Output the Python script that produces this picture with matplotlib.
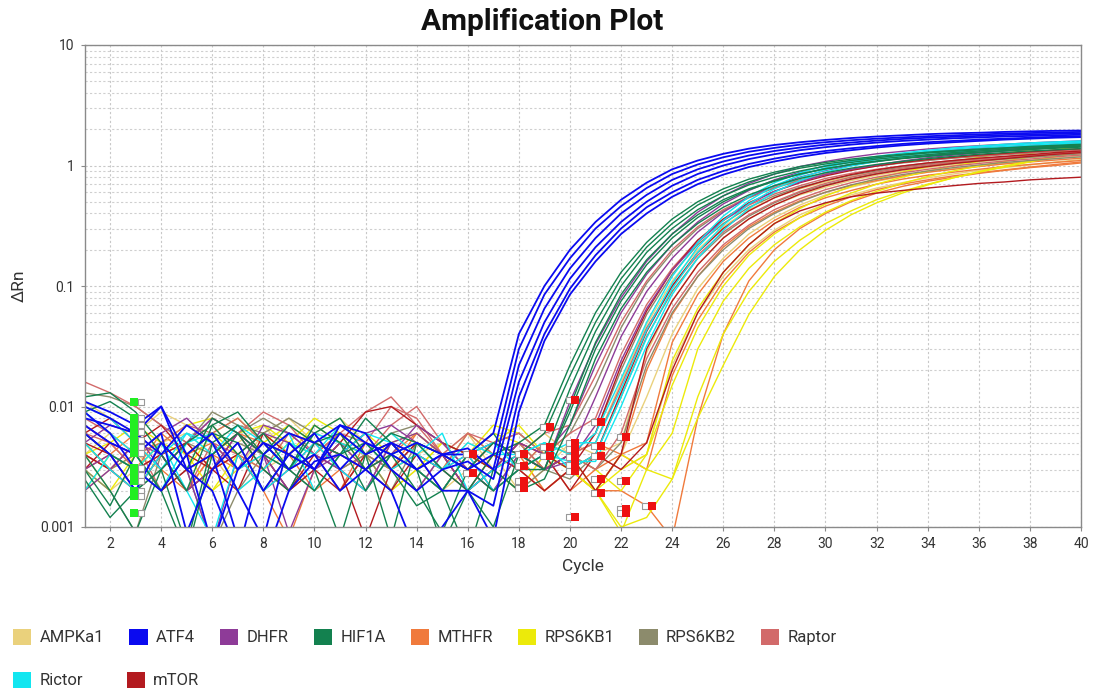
import numpy as np
import matplotlib
matplotlib.use("Agg")
import matplotlib.pyplot as plt
from matplotlib.patches import Patch
from matplotlib.ticker import FixedLocator, FuncFormatter, LogLocator, NullFormatter

plt.rcParams["font.family"] = ["Roboto", "DejaVu Sans"]

CYCLES = np.arange(1, 41)

GENES = ["AMPKa1", "ATF4", "DHFR", "HIF1A", "MTHFR",
         "RPS6KB1", "RPS6KB2", "Raptor", "Rictor", "mTOR"]
GENE_COLORS = ["#ead17c", "#0a0af0", "#8e3b98", "#13814f", "#f07a3c",
               "#ecea0a", "#8c8b6c", "#d26a6a", "#12e6f0", "#b31a1f"]

# delta Rn per cycle (1..40), one row per well
AMPKA1_RUNS = [
    [.011, .008, .006, .009, .007, .005, .003, .006, .008, .005, .004, .006, .003, .004, .005, .003, .005, .004, .006, .004,
     .005, .016, .048, .110, .200, .310, .430, .540, .640, .730, .810, .880, .950, 1.01, 1.06, 1.11, 1.16, 1.20, 1.25, 1.30],
    [.004, .006, .004, .003, .005, .007, .004, .003, .005, .004, .002, .004, .006, .004, .003, .005, .004, .002, .003, .005,
     .004, .005, .028, .075, .150, .250, .360, .470, .570, .660, .750, .830, .900, .960, 1.02, 1.07, 1.12, 1.16, 1.21, 1.25],
    [.002, .003, .005, .004, .002, .003, .005, .007, .004, .003, .005, .004, .002, .003, .004, .006, .003, .002, .004, .003,
     .002, .004, .012, .040, .095, .170, .270, .370, .470, .570, .660, .740, .810, .880, .940, .990, 1.04, 1.09, 1.15, 1.20],
    [.004, .002, .003, .005, .006, .004, .002, .003, .004, .006, .008, .005, .003, .004, .002, .003, .005, .004, .002, .003,
     .004, .003, .004, .022, .060, .120, .200, .290, .390, .480, .570, .650, .720, .790, .850, .910, .960, 1.01, 1.07, 1.12],
]

ATF4_RUNS = [
    [.011, .009, .007, .010, .004, .006, .003, .005, .004, .006, .003, .005, .004, .003, .004, .004, .006, .040, .100, .200,
     .340, .520, .720, .930, 1.10, 1.25, 1.38, 1.48, 1.56, 1.63, 1.69, 1.74, 1.78, 1.82, 1.85, 1.87, 1.90, 1.92, 1.94, 1.95],
    [.010, .008, .006, .004, .007, .005, .002, .0008, .005, .003, .006, .004, .005, .003, .004, .003, .004, .030, .085, .170,
     .300, .460, .650, .850, 1.02, 1.17, 1.30, 1.40, 1.49, 1.56, 1.62, 1.67, 1.71, 1.75, 1.78, 1.81, 1.84, 1.86, 1.88, 1.90],
    [.008, .007, .006, .010, .003, .002, .0006, .004, .006, .005, .007, .005, .004, .005, .004, .0045, .003, .022, .065, .140,
     .250, .400, .570, .760, .930, 1.08, 1.21, 1.32, 1.41, 1.49, 1.55, 1.61, 1.66, 1.70, 1.73, 1.76, 1.79, 1.81, 1.83, 1.85],
    [.007, .005, .004, .006, .0009, .003, .005, .002, .004, .003, .007, .006, .003, .002, .003, .0035, .0025, .016, .050, .115,
     .210, .340, .500, .680, .850, 1.00, 1.13, 1.24, 1.34, 1.42, 1.49, 1.55, 1.60, 1.64, 1.68, 1.71, 1.74, 1.76, 1.78, 1.80],
    [.009, .006, .003, .002, .004, .0007, .003, .005, .003, .004, .002, .003, .005, .004, .002, .002, .0015, .012, .040, .095,
     .180, .300, .450, .600, .760, .900, 1.03, 1.14, 1.24, 1.32, 1.39, 1.45, 1.51, 1.56, 1.60, 1.64, 1.67, 1.70, 1.73, 1.75],
    [.006, .004, .002, .005, .003, .004, .0008, .0005, .002, .0035, .004, .003, .002, .0006, .001, .002, .0008, .009, .035, .085,
     .160, .270, .400, .550, .700, .840, .970, 1.08, 1.18, 1.27, 1.34, 1.41, 1.47, 1.52, 1.56, 1.60, 1.64, 1.67, 1.70, 1.72],
]

DHFR_RUNS = [
    [.005, .007, .006, .003, .005, .008, .006, .004, .002, .005, .004, .006, .007, .005, .003, .004, .005, .004, .003, .011,
     .033, .080, .160, .270, .410, .560, .710, .850, .980, 1.08, 1.17, 1.25, 1.31, 1.37, 1.42, 1.46, 1.50, 1.54, 1.57, 1.60],
    [.007, .005, .004, .006, .008, .005, .003, .007, .006, .004, .003, .002, .005, .006, .004, .002, .003, .005, .004, .007,
     .022, .060, .125, .220, .340, .480, .620, .760, .880, .990, 1.08, 1.16, 1.23, 1.29, 1.34, 1.39, 1.43, 1.47, 1.51, 1.55],
    [.003, .004, .002, .005, .003, .0007, .004, .006, .005, .003, .004, .006, .003, .002, .004, .003, .005, .004, .003, .004,
     .012, .038, .090, .170, .280, .410, .550, .680, .800, .910, 1.00, 1.08, 1.15, 1.21, 1.27, 1.32, 1.36, 1.40, 1.45, 1.50],
    [.002, .003, .005, .004, .002, .003, .006, .004, .0009, .003, .005, .003, .004, .007, .005, .003, .002, .004, .003, .0035,
     .007, .024, .065, .135, .230, .350, .480, .610, .730, .840, .930, 1.01, 1.09, 1.16, 1.22, 1.27, 1.32, 1.36, 1.41, 1.45],
]

HIF1A_RUNS = [
    [.012, .013, .009, .005, .003, .008, .006, .004, .007, .005, .004, .008, .005, .003, .0007, .002, .004, .005, .007, .022,
     .060, .130, .230, .360, .500, .640, .770, .880, .980, 1.06, 1.13, 1.19, 1.24, 1.29, 1.33, 1.37, 1.40, 1.44, 1.47, 1.50],
    [.009, .011, .008, .004, .002, .007, .009, .005, .003, .006, .008, .004, .0008, .005, .004, .003, .005, .004, .006, .018,
     .050, .115, .210, .330, .470, .600, .730, .850, .950, 1.03, 1.10, 1.16, 1.22, 1.27, 1.31, 1.35, 1.39, 1.42, 1.45, 1.48],
    [.004, .002, .0009, .003, .005, .007, .004, .006, .003, .007, .005, .002, .004, .003, .002, .004, .006, .003, .004, .014,
     .042, .100, .190, .300, .430, .560, .690, .800, .900, .990, 1.06, 1.13, 1.18, 1.23, 1.28, 1.32, 1.36, 1.39, 1.42, 1.45],
    [.003, .0015, .004, .002, .0006, .004, .006, .003, .002, .005, .006, .003, .004, .002, .0009, .003, .002, .003, .003, .010,
     .034, .085, .165, .270, .390, .520, .640, .750, .850, .940, 1.02, 1.08, 1.14, 1.19, 1.24, 1.28, 1.32, 1.36, 1.39, 1.42],
    [.006, .004, .003, .002, .004, .006, .005, .002, .004, .003, .0008, .004, .006, .005, .003, .002, .001, .004, .003, .009,
     .030, .075, .150, .250, .370, .500, .630, .740, .850, .940, 1.02, 1.09, 1.15, 1.20, 1.25, 1.29, 1.33, 1.37, 1.41, 1.45],
    [.0025, .0012, .002, .003, .0007, .005, .007, .004, .003, .002, .004, .005, .003, .0015, .002, .0006, .003, .002, .0025, .007,
     .025, .065, .130, .220, .330, .450, .570, .680, .780, .870, .950, 1.02, 1.08, 1.14, 1.19, 1.24, 1.28, 1.32, 1.35, 1.38],
]

MTHFR_RUNS = [
    [.007, .005, .003, .006, .004, .005, .003, .004, .006, .005, .003, .002, .004, .006, .004, .003, .005, .004, .003, .004,
     .005, .004, .020, .058, .120, .210, .310, .410, .510, .600, .680, .750, .820, .880, .930, .980, 1.03, 1.07, 1.11, 1.15],
    [.003, .004, .006, .004, .002, .004, .006, .005, .003, .004, .002, .005, .003, .004, .002, .004, .003, .005, .004, .002,
     .003, .004, .005, .034, .085, .160, .250, .350, .450, .540, .620, .700, .770, .830, .880, .930, .980, 1.02, 1.06, 1.10],
    [.005, .003, .002, .004, .005, .003, .004, .002, .0008, .003, .005, .004, .003, .006, .004, .002, .003, .004, .002, .003,
     .002, .004, .003, .018, .052, .110, .190, .280, .370, .460, .550, .630, .700, .760, .820, .870, .920, .970, 1.02, 1.07],
    [.004, .003, .005, .003, .002, .004, .003, .005, .004, .002, .003, .004, .003, .002, .004, .003, .002, .003, .002, .003,
     .002, .002, .0015, .0008, .008, .040, .110, .200, .300, .400, .500, .590, .670, .740, .800, .860, .910, .960, 1.00, 1.05],
]

RPS6KB1_RUNS = [
    [.006, .004, .003, .005, .007, .008, .006, .007, .005, .004, .006, .003, .004, .005, .003, .006, .004, .003, .005, .004,
     .003, .002, .004, .024, .065, .130, .220, .330, .440, .560, .670, .780, .880, .980, 1.08, 1.17, 1.26, 1.35, 1.45, 1.55],
    [.004, .005, .007, .005, .003, .006, .008, .005, .004, .007, .005, .003, .005, .006, .004, .003, .005, .007, .004, .003,
     .002, .003, .004, .015, .045, .100, .180, .270, .370, .480, .590, .700, .800, .900, .990, 1.08, 1.17, 1.26, 1.35, 1.45],
    [.005, .003, .004, .002, .004, .006, .004, .003, .005, .008, .006, .004, .005, .003, .002, .004, .006, .005, .003, .004,
     .002, .0009, .003, .006, .030, .075, .140, .220, .310, .410, .510, .610, .710, .810, .900, .990, 1.08, 1.18, 1.28, 1.38],
    [.003, .002, .004, .005, .003, .002, .004, .006, .004, .003, .005, .004, .002, .003, .005, .004, .007, .006, .004, .003,
     .002, .001, .0012, .0025, .008, .022, .058, .120, .200, .290, .390, .490, .590, .690, .790, .890, .990, 1.09, 1.19, 1.30],
    [.002, .004, .003, .005, .004, .002, .003, .005, .007, .005, .004, .006, .004, .003, .005, .004, .003, .002, .004, .003,
     .002, .004, .003, .0025, .012, .040, .090, .160, .240, .330, .420, .520, .610, .700, .790, .880, .970, 1.07, 1.18, 1.30],
]

RPS6KB2_RUNS = [
    [.013, .012, .010, .007, .005, .009, .007, .006, .008, .006, .005, .004, .006, .007, .005, .004, .005, .006, .004, .006,
     .015, .045, .105, .190, .300, .420, .540, .650, .750, .840, .920, .990, 1.05, 1.10, 1.15, 1.19, 1.23, 1.27, 1.31, 1.35],
    [.006, .004, .002, .003, .005, .004, .006, .008, .006, .005, .003, .004, .002, .005, .004, .002, .003, .005, .003, .004,
     .006, .020, .058, .125, .220, .330, .450, .560, .660, .750, .830, .900, .970, 1.03, 1.08, 1.13, 1.17, 1.21, 1.26, 1.30],
    [.003, .002, .0009, .004, .002, .003, .005, .004, .002, .003, .006, .004, .003, .005, .004, .003, .002, .004, .003, .0025,
     .004, .012, .038, .090, .170, .270, .380, .490, .600, .690, .780, .860, .930, .990, 1.04, 1.09, 1.13, 1.17, 1.21, 1.25],
    [.005, .003, .004, .002, .003, .0007, .002, .004, .003, .002, .004, .003, .005, .003, .002, .004, .003, .002, .003, .004,
     .003, .005, .022, .060, .120, .200, .300, .400, .500, .600, .690, .770, .840, .900, .960, 1.01, 1.06, 1.10, 1.14, 1.18],
]

RAPTOR_RUNS = [
    [.016, .013, .010, .007, .005, .008, .006, .009, .007, .004, .006, .005, .010, .008, .004, .006, .005, .004, .006, .007,
     .018, .050, .110, .200, .310, .430, .550, .660, .760, .850, .930, 1.00, 1.06, 1.11, 1.16, 1.20, 1.24, 1.28, 1.32, 1.35],
    [.008, .006, .004, .005, .007, .006, .008, .005, .003, .004, .006, .009, .012, .007, .004, .003, .005, .006, .004, .006,
     .008, .027, .070, .140, .240, .350, .470, .580, .680, .780, .860, .930, .990, 1.05, 1.10, 1.14, 1.18, 1.22, 1.26, 1.30],
    [.004, .003, .005, .002, .004, .006, .003, .005, .004, .006, .003, .002, .005, .004, .003, .006, .004, .003, .005, .004,
     .005, .015, .045, .100, .180, .280, .390, .500, .610, .710, .800, .880, .950, 1.01, 1.06, 1.11, 1.16, 1.20, 1.24, 1.28],
    [.006, .005, .003, .004, .002, .005, .004, .003, .006, .004, .002, .004, .007, .010, .005, .003, .004, .005, .003, .004,
     .003, .006, .025, .065, .130, .220, .320, .430, .530, .630, .720, .800, .870, .930, .990, 1.04, 1.09, 1.13, 1.18, 1.22],
]

RICTOR_RUNS = [
    [.010, .008, .005, .003, .006, .004, .007, .005, .003, .006, .005, .004, .006, .004, .003, .005, .004, .004, .005, .004,
     .006, .017, .050, .120, .230, .380, .550, .720, .870, 1.00, 1.10, 1.19, 1.27, 1.34, 1.40, 1.45, 1.50, 1.54, 1.57, 1.60],
    [.009, .006, .004, .002, .005, .006, .003, .004, .006, .002, .004, .006, .005, .003, .002, .004, .005, .003, .004, .005,
     .005, .014, .043, .105, .210, .350, .510, .680, .830, .960, 1.07, 1.16, 1.24, 1.31, 1.37, 1.42, 1.47, 1.51, 1.55, 1.58],
    [.005, .003, .002, .004, .006, .005, .002, .003, .005, .004, .007, .005, .003, .004, .006, .002, .003, .004, .005, .003,
     .004, .012, .037, .095, .190, .320, .480, .640, .790, .920, 1.03, 1.12, 1.20, 1.27, 1.33, 1.38, 1.43, 1.47, 1.51, 1.55],
    [.002, .004, .003, .005, .002, .0008, .004, .002, .003, .005, .003, .002, .004, .005, .003, .004, .002, .003, .004, .0035,
     .0035, .010, .032, .085, .170, .290, .440, .600, .750, .880, .990, 1.08, 1.16, 1.23, 1.29, 1.35, 1.40, 1.44, 1.48, 1.52],
]

MTOR_RUNS = [
    [.006, .008, .005, .007, .004, .003, .006, .004, .002, .003, .005, .009, .010, .007, .005, .004, .003, .005, .004, .003,
     .006, .022, .062, .135, .240, .360, .490, .610, .720, .820, .910, .990, 1.06, 1.12, 1.17, 1.22, 1.26, 1.30, 1.34, 1.38],
    [.004, .003, .002, .004, .005, .003, .002, .006, .004, .003, .002, .004, .005, .003, .002, .004, .002, .003, .004, .002,
     .004, .013, .042, .100, .190, .300, .420, .540, .650, .750, .840, .920, .990, 1.05, 1.10, 1.15, 1.19, 1.23, 1.28, 1.32],
    [.003, .005, .004, .002, .003, .004, .006, .003, .002, .004, .003, .0008, .003, .005, .004, .002, .003, .004, .003, .004,
     .002, .004, .030, .075, .150, .250, .360, .470, .580, .680, .770, .850, .920, .980, 1.04, 1.09, 1.14, 1.19, 1.24, 1.28],
    [.005, .004, .003, .004, .002, .003, .004, .002, .003, .005, .004, .003, .002, .004, .003, .002, .004, .003, .002, .003,
     .004, .003, .005, .020, .060, .130, .220, .330, .420, .490, .550, .590, .620, .650, .680, .710, .730, .760, .780, .800],
]

# baseline start / end flags per well
START_FLAG_CYCLE = 3
START_FLAG_VALUES = [.0109, .0080, .0070, .0061, .0053, .0046, .0041,
                     .0031, .0027, .0024, .0020, .0018, .0013]
END_FLAG_CYCLES = [16, 16, 18, 18, 18, 18, 19, 19, 19,
                   20, 20, 20, 20, 20, 20, 20,
                   21, 21, 21, 21, 21, 22, 22, 22, 22, 23]
END_FLAG_VALUES = [.0040, .0028, .0040, .0032, .0024, .0021, .0068, .0046, .0039,
                   .0113, .0050, .0044, .0038, .0033, .0029, .0012,
                   .0074, .0047, .0039, .0025, .0019, .0056, .0024, .0014, .0013, .0015]

RUNS_BY_GENE = {
    "AMPKa1": AMPKA1_RUNS, "ATF4": ATF4_RUNS, "DHFR": DHFR_RUNS,
    "HIF1A": HIF1A_RUNS, "MTHFR": MTHFR_RUNS, "RPS6KB1": RPS6KB1_RUNS,
    "RPS6KB2": RPS6KB2_RUNS, "Raptor": RAPTOR_RUNS, "Rictor": RICTOR_RUNS,
    "mTOR": MTOR_RUNS,
}
DRAW_ORDER = ["AMPKa1", "MTHFR", "RPS6KB1", "RPS6KB2", "Raptor",
              "mTOR", "DHFR", "Rictor", "HIF1A", "ATF4"]

TEXT = "#333333"
W, H = 1094, 693


def main():
    fig = plt.figure(figsize=(W / 100, H / 100), dpi=100)
    ax = fig.add_axes([84.5 / W, 1 - 527 / H, 996.5 / W, 482 / H])

    color_of = dict(zip(GENES, GENE_COLORS))
    for gene in DRAW_ORDER:
        lw = 1.3 if gene == "ATF4" else 1.0
        for run in RUNS_BY_GENE[gene]:
            ax.plot(CYCLES, run, color=color_of[gene], lw=lw, zorder=2)

    # baseline flags: hollow box beside a filled box
    sx = np.full(len(START_FLAG_VALUES), START_FLAG_CYCLE, dtype=float)
    ax.scatter(sx + 0.22, START_FLAG_VALUES, marker="s", s=22, facecolor="white",
               edgecolor="#999999", linewidths=0.8, zorder=4, clip_on=False)
    ax.scatter(sx - 0.08, START_FLAG_VALUES, marker="s", s=26, color="#22ee22",
               linewidths=0, zorder=5, clip_on=False)
    ex = np.array(END_FLAG_CYCLES, dtype=float)
    ax.scatter(ex - 0.05, END_FLAG_VALUES, marker="s", s=22, facecolor="white",
               edgecolor="#999999", linewidths=0.8, zorder=4)
    ax.scatter(ex + 0.2, END_FLAG_VALUES, marker="s", s=30, color="#ee1111",
               linewidths=0, zorder=5)

    ax.set_yscale("log")
    ax.set_xlim(1, 40)
    ax.set_ylim(0.001, 10)

    ax.xaxis.set_major_locator(FixedLocator(np.arange(2, 41, 2)))
    ax.yaxis.set_major_locator(FixedLocator([0.001, 0.01, 0.1, 1, 10]))
    ax.yaxis.set_major_formatter(FuncFormatter(lambda v, _: f"{v:g}"))
    ax.yaxis.set_minor_locator(LogLocator(base=10, subs=np.arange(2, 10)))
    ax.yaxis.set_minor_formatter(NullFormatter())

    ax.grid(which="major", axis="both", color="#c8c8c8", lw=0.8, ls=(0, (2, 2)))
    ax.grid(which="minor", axis="y", color="#cfcfcf", lw=0.8, ls=(0, (2, 2)))
    ax.set_axisbelow(True)

    for sp in ax.spines.values():
        sp.set_color("#8a8a8a")
        sp.set_linewidth(1.0)
    ax.tick_params(which="major", length=3, width=0.8, color="#8a8a8a",
                   labelsize=10, labelcolor=TEXT, pad=4)
    ax.tick_params(which="minor", length=0)

    ax.set_xlabel("Cycle", fontsize=12.5, color=TEXT, labelpad=6)
    ax.set_ylabel("ΔRn", fontsize=12.5, color=TEXT, labelpad=10)
    fig.text(542 / W, 1 - 22 / H, "Amplification Plot", ha="center", va="center",
             fontsize=21.5, fontweight="bold", color="#111111")

    handles = [Patch(facecolor=c, edgecolor="none", label=g)
               for g, c in zip(GENES, GENE_COLORS)]
    common = dict(frameon=False, fontsize=12, handlelength=1.1, handleheight=1.1,
                  handletextpad=0.5, borderpad=0, borderaxespad=0,
                  labelcolor=TEXT, loc="center left")
    fig.legend(handles=handles[:8], ncol=8, columnspacing=1.5,
               bbox_to_anchor=(13 / W, 1 - 637 / H), **common)
    fig.legend(handles=handles[8:], ncol=2, columnspacing=2.6,
               bbox_to_anchor=(13 / W, 1 - 680 / H), **common)

    fig.savefig("out.png", dpi=100, facecolor="white")


if __name__ == "__main__":
    main()
